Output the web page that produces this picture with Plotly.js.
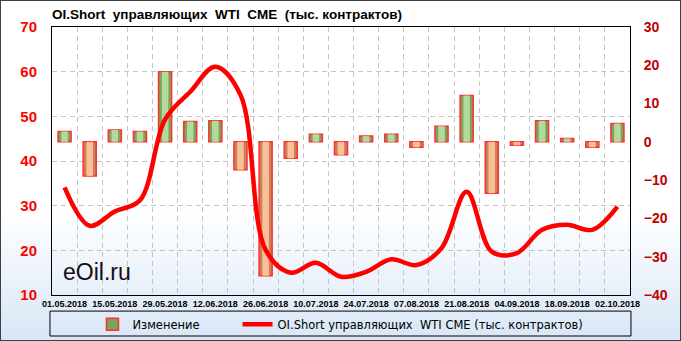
<!DOCTYPE html>
<html>
<head>
<meta charset="utf-8">
<script src="https://cdn.plot.ly/plotly-3.0.1.min.js"></script>
<style>
html,body{margin:0;padding:0;}
#wrap{position:relative;width:681px;height:341px;background:linear-gradient(to bottom,#ffffff 0%,#ffffff 62%,#d8e6f6 100%);}
#chart{position:absolute;left:0;top:0;width:681px;height:341px;}
#frame{position:absolute;left:0;top:0;width:681px;height:341px;box-sizing:border-box;border:1px solid #404040;pointer-events:none;}
</style>
</head>
<body>
<div id="wrap"><div id="chart"></div><div id="frame"></div></div>
<script>
const dates = ['01.05.2018','08.05.2018','15.05.2018','22.05.2018','29.05.2018','05.06.2018','12.06.2018','19.06.2018','26.06.2018','03.07.2018','10.07.2018','17.07.2018','24.07.2018','31.07.2018','07.08.2018','14.08.2018','21.08.2018','28.08.2018','04.09.2018','11.09.2018','18.09.2018','25.09.2018','02.10.2018'];
const change = [2.7,-8.9,3.1,2.7,18.3,5.3,5.5,-7.3,-35.0,-4.3,2.0,-3.4,1.5,2.0,-1.4,4.1,12.1,-13.4,-0.9,5.5,0.9,-1.4,4.8];
const oiShort = [34.1,25.5,28.7,31.2,49.3,55.5,61.1,54.8,20.1,15.0,17.2,14.1,15.2,18.0,16.7,20.5,33.1,19.7,19.4,24.6,25.7,24.6,29.8];
const tickDates = dates.filter((d,i)=>i%2===0);

const idx = dates.map((d,i)=>i);
const tickIdx = idx.filter(i=>i%2===0);
const outerCol = change.map(v=>v>=0?'#7aa35c':'#c7825b');
const innerCol = change.map(v=>v>=0?'#b4d99c':'#fcc096');

const legFont = {family:'DejaVu Sans', size:11.5, color:'#000'};

const traces = [
  {type:'bar', x:idx, y:change, name:'Изменение', width:0.52, yaxis:'y', legend:'legend',
   marker:{color:outerCol, line:{color:'#ff3030', width:1.5}}, hoverinfo:'y'},
  {type:'bar', x:idx, y:change, name:'inner', width:0.26, yaxis:'y', showlegend:false,
   marker:{color:innerCol, line:{width:0}}, hoverinfo:'skip'},
  {type:'scatter', mode:'lines', x:idx, y:oiShort, yaxis:'y2', legend:'legend2',
   name:'OI.Short управляющих\u00a0\u00a0WTI CME (тыс. контрактов)',
   line:{color:'#ff0000', width:4.5, shape:'spline', smoothing:1}}
];

const layout = {
  width:681, height:341,
  margin:{l:52, r:51, t:27, b:46, autoexpand:false},
  paper_bgcolor:'rgba(0,0,0,0)', plot_bgcolor:'rgba(0,0,0,0)',
  barmode:'overlay',
  showlegend:true,
  title:{text:'<b>OI.Short\u00a0 управляющих\u00a0 WTI\u00a0 CME\u00a0 (тыс. контрактов)</b>',
         font:{family:'Liberation Sans', size:13.5, color:'#000'},
         xref:'paper', x:0, xanchor:'left', yref:'container', y:0.958, yanchor:'middle'},
  xaxis:{range:[-0.5,22.5], tickmode:'array', tickvals:tickIdx, ticktext:tickDates,
         tickfont:{family:'Liberation Sans', size:9, color:'#000', weight:'bold'},
         showgrid:false, zeroline:false, showline:true, mirror:true, linecolor:'#000', linewidth:1,
         ticks:'', ticklabelstandoff:0,
         minor:{tick0:0.5, dtick:1, showgrid:true, gridcolor:'#c4c4c4', griddash:'5px,4px', gridwidth:1, ticks:''}},
  yaxis:{side:'right', range:[-40,30], dtick:10, showgrid:false, zeroline:false,
         tickfont:{family:'Liberation Sans', size:14, color:'#c00000', weight:'bold'},
         showline:true, linecolor:'#000', linewidth:1, ticks:'', ticklabelstandoff:10},
  yaxis2:{side:'left', overlaying:'y', range:[10,70], dtick:10, showgrid:true, gridcolor:'#c4c4c4',
          griddash:'5px,4px', gridwidth:1, zeroline:false,
          tickfont:{family:'Liberation Sans', size:15, color:'#ff0000', weight:'bold'},
          showline:true, linecolor:'#000', linewidth:1, ticks:'', ticklabelstandoff:11},
  legend:{orientation:'h', x:0.07, xanchor:'left', y:-0.055, yanchor:'top',
          font:legFont, bgcolor:'rgba(0,0,0,0)', itemwidth:30},
  legend2:{orientation:'h', x:0.321, xanchor:'left', y:-0.055, yanchor:'top',
          font:legFont, bgcolor:'rgba(0,0,0,0)', itemwidth:30},
  shapes:[{type:'rect', xref:'paper', yref:'paper', x0:-0.0035, x1:1.0017, y0:-0.06, y1:-0.153,
           line:{color:'#000', width:1}, fillcolor:'rgba(0,0,0,0)'}],
  annotations:[{text:'eOil.ru', xref:'paper', yref:'paper', x:0.016, y:0.086, xanchor:'left', yanchor:'middle',
                showarrow:false, font:{family:'Liberation Sans', size:23, color:'#111'}}]
};
Plotly.newPlot('chart', traces, layout, {displayModeBar:false, staticPlot:true});
</script>
</body>
</html>
